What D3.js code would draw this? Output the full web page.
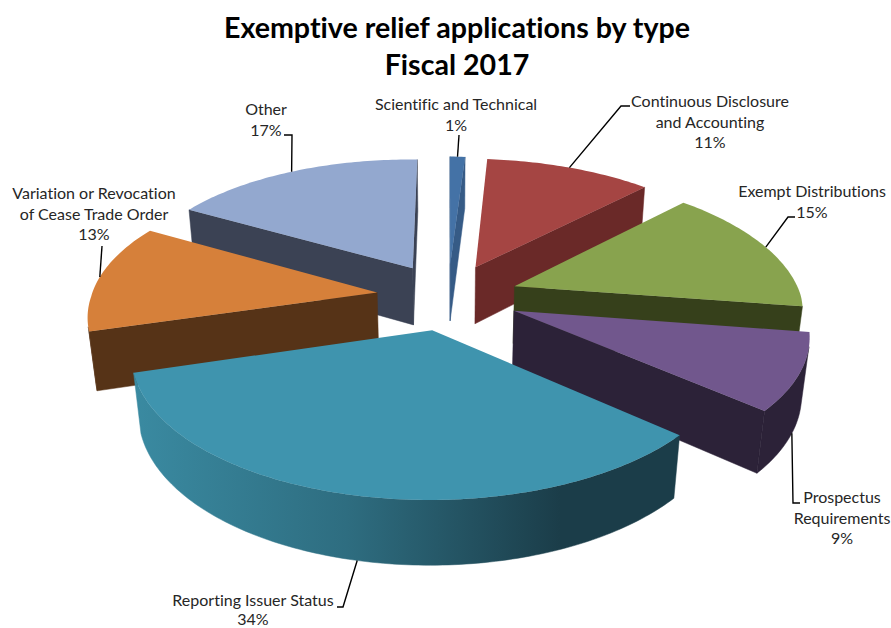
<!DOCTYPE html>
<html>
<head>
<meta charset="utf-8">
<script src="https://cdn.jsdelivr.net/npm/d3@7/dist/d3.min.js"></script>
<style>
html,body{margin:0;padding:0;background:#fff;}
svg{display:block;}
text{font-family:Lato,"Open Sans",sans-serif;font-variant-ligatures:none;}
</style>
</head>
<body>
<script>
// Chart data
const categories = ["Scientific and Technical","Continuous Disclosure and Accounting","Exempt Distributions","Prospectus Requirements","Reporting Issuer Status","Variation or Revocation of Cease Trade Order","Other"];
const shares = [1,11,15,9,34,13,17];
const titleLines = ["Exemptive relief applications by type","Fiscal 2017"];

// Face colours for each slice
const topColors  = ["#4472a6","#a54543","#88a34e","#71578d","#3f94ae","#d6803a","#93a8cf"];
const sideColors = ["#365b86","#6a2928","#36401b","#2c2238","#1b3d49","#563317","#3b4254"];

// Label placement: wrapped lines, centre x, first baseline, line step, leader waypoints
const labelLayout = [
  {lines:["Scientific and Technical"],cx:456,y:110,step:20.7,leader:[[459,135]],z:0},
  {lines:["Continuous Disclosure","and Accounting"],cx:710,y:107,step:20.7,leader:[[630,106],[621,106]],z:0},
  {lines:["Exempt Distributions"],cx:812,y:197,step:20.7,leader:[[795,217],[788,217]],z:0},
  {lines:["Prospectus","Requirements"],cx:842,y:503,step:20.7,leader:[[800,503],[793,503]],z:1},
  {lines:["Reporting Issuer Status"],cx:253,y:606,step:18.6,leader:[[337,607],[343,607]],z:1},
  {lines:["Variation or Revocation","of Cease Trade Order"],cx:94,y:199,step:20.7,leader:[[102,246]],z:0},
  {lines:["Other"],cx:266,y:115,step:20.7,leader:[[284,135],[292,135]],z:0}
];

const width = 891, height = 628;
const explode = 0.25;
const firstAngle = 1.5 * Math.PI / 180;

// Perspective camera: X right, Y away from the viewer, Z from top face (0) to base (1).
// The far half of the pie leans slightly left, as it does with a camera set off-axis.
const cam = {cx:448, cy:296.5, ax:286, by:133, hz:59, py:0.15, pz:0.022, lean:-0.026};
function project(X, Y, Z) {
  const w = 1 + cam.py * Y + cam.pz * Z;
  const Xl = X + cam.lean * Math.max(Y, 0);
  return [cam.cx + cam.ax * Xl / w, cam.cy + (-cam.by * Y + cam.hz * Z) / w];
}

const svg = d3.select("body").append("svg").attr("width", width).attr("height", height);
const defs = svg.append("defs");

// Shaded outer wall of the largest slice
const wallShade = defs.append("linearGradient").attr("id","wallShade")
  .attr("gradientUnits","userSpaceOnUse").attr("x1",135).attr("x2",560).attr("y1",0).attr("y2",0);
wallShade.append("stop").attr("offset",0).attr("stop-color","#3a8aa1");
wallShade.append("stop").attr("offset",0.5).attr("stop-color","#2e6d80");
wallShade.append("stop").attr("offset",1).attr("stop-color","#1b3d49");

const arcs = d3.pie().sort(null).startAngle(firstAngle).endAngle(firstAngle + 2*Math.PI)(shares);

const line = d3.line();
const closed = pts => line(pts) + "Z";
function area(pts) {
  let s = 0;
  pts.forEach((p,i) => { const q = pts[(i+1)%pts.length]; s += p[0]*q[1]-q[0]*p[1]; });
  return s/2;
}

const slices = arcs.map((a,i) => {
  const mid = (a.startAngle + a.endAngle)/2;
  const ox = explode*Math.sin(mid), oy = explode*Math.cos(mid);
  const rim = (t,z,r=1) => project(ox + r*Math.sin(t), oy + r*Math.cos(t), z);
  return {i,a,mid,ox,oy,rim};
});

// Painted from the back of the pie to the front
const paintOrder = [6,0,1,5,2,3,4];

paintOrder.forEach(i => {
  const {a,ox,oy,rim} = slices[i];
  const g = svg.append("g");
  const apexT = project(ox,oy,0), apexB = project(ox,oy,1);
  const start = a.startAngle, end = a.endAngle;
  const fill = i === 4 ? "url(#wallShade)" : sideColors[i];

  const face = (pts, color) => {
    if (area(pts) < 0) g.append("path").attr("d",closed(pts)).attr("fill",color).attr("stroke",color).attr("stroke-width",0.5);
  };
  face([apexT, rim(start,0), rim(start,1), apexB], sideColors[i]);
  face([rim(end,0), apexT, apexB, rim(end,1)], sideColors[i]);

  // Outer wall: keep only the stretch of rim that faces the camera
  const n = Math.max(4, Math.ceil((end-start)/(Math.PI/180)));
  const ts = d3.range(n+1).map(k => start + (end-start)*k/n);
  const vis = [];
  for (let k=0;k<n;k++) {
    const q = [rim(ts[k],0),rim(ts[k+1],0),rim(ts[k+1],1),rim(ts[k],1)];
    if (area(q) < 0) vis.push(k);
  }
  if (vis.length) {
    const tt = vis.map(k => ts[k]).concat([ts[vis[vis.length-1]+1]]);
    const pts = tt.map(t => rim(t,0)).concat(tt.slice().reverse().map(t => rim(t,1)));
    g.append("path").attr("d",closed(pts)).attr("fill",fill).attr("stroke",fill).attr("stroke-width",0.5);
  }

  // Top face
  const topPts = [apexT].concat(ts.map(t => rim(t,0)));
  g.append("path").attr("d",closed(topPts)).attr("fill",topColors[i]);
});

// Leader lines run from the label elbow to the slice rim at its bisector
const leaders = svg.append("g").attr("fill","none").attr("stroke","#000").attr("stroke-width",1.4);
labelLayout.forEach((l,i) => {
  const s = slices[i];
  leaders.append("path").attr("d", line(l.leader.concat([s.rim(s.mid, l.z)])));
});

// Slice labels: category lines, then the share
const fmt = v => v + "%";
const labels = svg.append("g").attr("font-size",16).attr("fill","#262626").attr("text-anchor","middle");
labelLayout.forEach((l,i) => {
  const rows = l.lines.concat([fmt(shares[i])]);
  labels.append("g").selectAll("text").data(rows).join("text")
    .attr("x",l.cx).attr("y",(d,k) => l.y + k*l.step).text(d => d);
});

// Title
svg.append("g").attr("font-size",28.6).attr("font-weight",700).attr("fill","#000").attr("text-anchor","middle")
  .selectAll("text").data(titleLines).join("text")
  .attr("x",457).attr("y",(d,k) => 38 + k*37).text(d => d);
</script>
</body>
</html>
